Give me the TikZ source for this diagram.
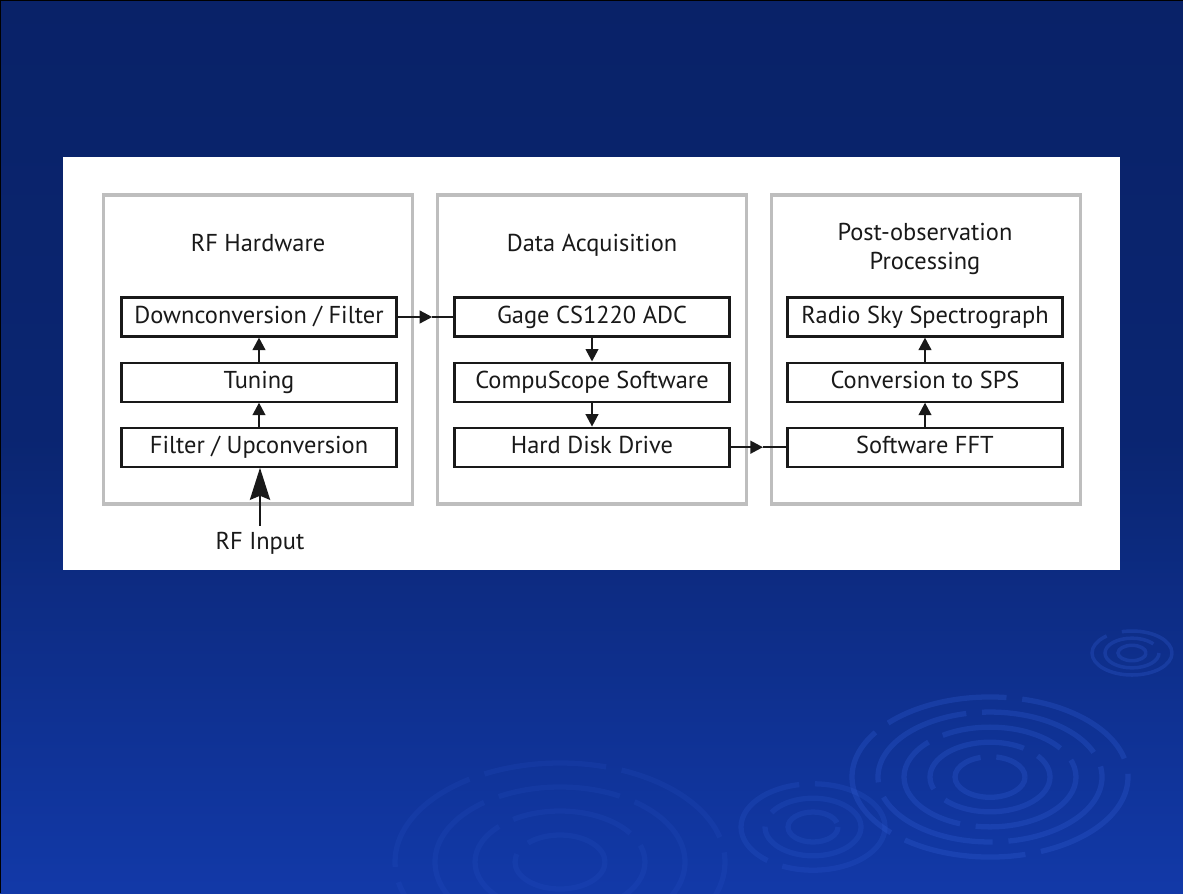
\documentclass[tikz,border=0pt]{standalone}
\usepackage{fontspec}
\setmainfont{PT Sans}
\usetikzlibrary{positioning, arrows.meta}
\definecolor{slidetop}{RGB}{9,34,104}
\definecolor{slidebot}{RGB}{18,57,168}
\definecolor{ripple}{RGB}{50,95,215}
\definecolor{grpgray}{RGB}{190,190,190}
\definecolor{ink}{RGB}{25,25,25}

\begin{document}
\begin{tikzpicture}[x=0.02cm, y=-0.02cm, node distance=0.48cm,
    stage/.style={draw=ink, text=ink, line width=1.2pt, minimum width=5.5cm, minimum height=0.78cm,
      inner sep=0pt, text height=0.7em, text depth=0pt, font=\fontsize{13.9}{16}\selectfont},
    group/.style={draw=grpgray, line width=1.9pt, minimum width=6.18cm, minimum height=6.18cm},
    title/.style={text=ink, font=\fontsize{13.9}{16.5}\selectfont, align=center},
    flow/.style={-{Triangle[length=0.25cm,width=0.25cm]}, draw=ink, line width=1.4pt},
    bigflow/.style={-{Stealth[length=0.64cm,width=0.4cm,inset=0.08cm]}, draw=ink, line width=1.7pt},
    wave/.style={ripple, line width=3pt, opacity=0.28, dash pattern=on 70pt off 9pt}]
    \useasboundingbox (0,0) rectangle (1183,893);

    % slide background
    \shade[top color=slidetop, bottom color=slidebot, middle color=slidetop!85!slidebot]
        (0,0) rectangle (1183,893);
    \draw[black, line width=1.2pt] (0,893) -- (0,0) -- (1183,0);
    \foreach \r in {35,60,86,112,138}
        \draw[wave] (990,777) ellipse [x radius=\r, y radius=0.58*\r];
    \foreach \r in {14,27,40}
        \draw[wave, line width=2pt] (1132,653) ellipse [x radius=\r, y radius=0.55*\r];
    \foreach \r in {25,48,72}
        \draw[wave, opacity=0.2] (813,827) ellipse [x radius=\r, y radius=0.6*\r];
    \foreach \r in {45,85,125,165}
        \draw[wave, opacity=0.13] (560,862) ellipse [x radius=\r, y radius=0.6*\r];

    % white panel
    \fill[white] (63,157) rectangle (1120,570);

    % groups
    \node[group] (rfgrp) at (258,349.5) {};
    \node[group] (dagrp) at (592,349.5) {};
    \node[group] (pogrp) at (926,349.5) {};

    \node[title] (rftitle) at (258,243) {RF Hardware};
    \node[title] (datitle) at (592,245) {Data Acquisition};
    \node[title] (potitle) at (925,249) {Post-observation\\Processing};

    % RF hardware
    \node[stage] (down) at (259,317) {Downconversion / Filter};
    \node[stage, below=of down] (tuning) {Tuning};
    \node[stage, below=of tuning] (filterup) {Filter / Upconversion};
    \node[title] (rfin) at (260,543) {RF Input};

    % data acquisition
    \node[stage] (gage) at (592,317) {Gage CS1220 ADC};
    \node[stage, below=of gage] (cscope) {CompuScope Software};
    \node[stage, below=of cscope] (hdd) {Hard Disk Drive};

    % post-observation processing
    \node[stage] (rss) at (925,317) {Radio Sky Spectrograph};
    \node[stage, below=of rss] (tosps) {Conversion to SPS};
    \node[stage, below=of tosps] (fft) {Software FFT};

    % connectors
    \draw[bigflow] (rfin.north) -- (rfin.north |- filterup.south);
    \draw[flow] (filterup) -- (tuning);
    \draw[flow] (tuning) -- (down);
    \draw[flow] (gage) -- (cscope);
    \draw[flow] (cscope) -- (hdd);
    \draw[flow] (fft) -- (tosps);
    \draw[flow] (tosps) -- (rss);

    \path (down.east) -- (gage.west) coordinate[pos=0.62] (m1);
    \draw[flow] (down.east) -- (m1);
    \draw[ink, line width=1.4pt] (m1) -- (gage.west);
    \path (hdd.east) -- (fft.west) coordinate[pos=0.58] (m2);
    \draw[flow] (hdd.east) -- (m2);
    \draw[ink, line width=1.4pt] (m2) -- (fft.west);
\end{tikzpicture}
\end{document}
